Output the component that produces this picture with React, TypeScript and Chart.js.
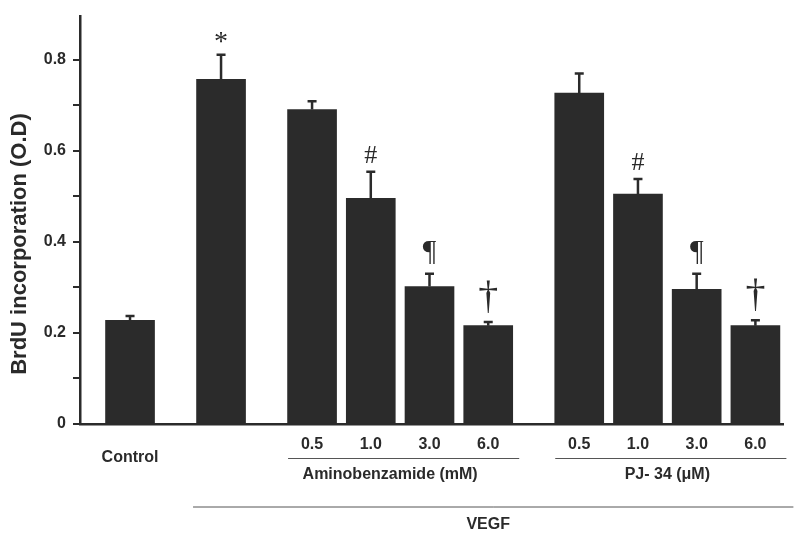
import React, { useEffect, useRef } from "react";
import { Chart, registerables } from "chart.js";

Chart.register(...registerables);

// ---- data ----
const barLabels = ["Control", "", "0.5", "1.0", "3.0", "6.0", "0.5", "1.0", "3.0", "6.0"];
const groupIds = [0, 1, 2, 2, 2, 2, 3, 3, 3, 3];
const means = [0.228, 0.757, 0.691, 0.496, 0.302, 0.216, 0.727, 0.505, 0.296, 0.216];
const errors = [0.009, 0.054, 0.018, 0.058, 0.028, 0.008, 0.043, 0.033, 0.034, 0.012];
const marks = ["", "*", "", "#", "¶", "†", "", "#", "¶", "†"];
const yTickValues = [0, 0.1, 0.2, 0.3, 0.4, 0.5, 0.6, 0.7, 0.8];
const yTickLabels = ["0", "", "0.2", "", "0.4", "", "0.6", "", "0.8"];
const subGroupLabels = ["Aminobenzamide (mM)", "PJ- 34 (\u03bcM)"];
const subGroupRanges = [[2, 5], [6, 9]];
const outerGroupLabel = "VEGF";
const outerGroupRange = [1, 9];
const yTitle = "BrdU incorporation (O.D)";

const GROUP_GAP = 0.55;
const positions = barLabels.map((_, i) => i + GROUP_GAP * groupIds[i]);

const INK = "#2b2b2b";
const TEXT = "#2a2a2a";
const SANS = "'Liberation Sans', Arial, sans-serif";
const SERIF = "'Liberation Serif', 'Times New Roman', serif";

const markSize: Record<string, number> = { "*": 28, "#": 26, "¶": 30, "†": 40 };

const extrasPlugin = {
  id: "extras",
  afterDatasetsDraw(chart: any) {
    const { ctx, chartArea, scales } = chart;
    const xs = scales.x;
    const ys = scales.y;
    const meta = chart.getDatasetMeta(0);
    ctx.save();
    // error bars + marks
    meta.data.forEach((el: any, i: number) => {
      const x = el.x;
      const yTop = ys.getPixelForValue(means[i]);
      const yCap = ys.getPixelForValue(means[i] + errors[i]);
      ctx.strokeStyle = INK;
      ctx.lineWidth = 2.5;
      ctx.beginPath();
      ctx.moveTo(x, yTop);
      ctx.lineTo(x, yCap);
      ctx.moveTo(x - 4.5, yCap);
      ctx.lineTo(x + 4.5, yCap);
      ctx.stroke();
      const m = marks[i];
      if (m) {
        const size = markSize[m] || 24;
        ctx.font = `${size}px ${SERIF}`;
        ctx.fillStyle = TEXT;
        ctx.textAlign = "center";
        ctx.textBaseline = "alphabetic";
        const tm = ctx.measureText(m);
        const gap = m === "*" ? 12 : 9;
        ctx.fillText(m, x, yCap - gap - tm.actualBoundingBoxDescent);
      }
    });
    const bottom = chartArea.bottom;
    // bar labels
    ctx.font = `bold 16px ${SANS}`;
    ctx.fillStyle = TEXT;
    ctx.textAlign = "center";
    ctx.textBaseline = "middle";
    barLabels.forEach((lab, i) => {
      if (!lab) return;
      const x = xs.getPixelForValue(positions[i]);
      const y = groupIds[i] === 0 ? bottom + 34 : bottom + 21;
      ctx.fillText(lab, x, y);
    });
    // sub groups
    ctx.strokeStyle = "#555";
    ctx.lineWidth = 1;
    subGroupRanges.forEach((r, gi) => {
      const x0 = xs.getPixelForValue(positions[r[0]]);
      const x1 = xs.getPixelForValue(positions[r[1]]);
      ctx.beginPath();
      ctx.moveTo(x0 - 24, bottom + 34.5);
      ctx.lineTo(x1 + 31, bottom + 34.5);
      ctx.stroke();
      ctx.fillText(subGroupLabels[gi], (x0 + x1) / 2 - (gi === 0 ? 10 : 0), bottom + 51);
    });
    // outer group
    {
      const x0 = xs.getPixelForValue(positions[outerGroupRange[0]]);
      const x1 = xs.getPixelForValue(positions[outerGroupRange[1]]);
      ctx.beginPath();
      ctx.moveTo(x0 - 28, bottom + 83);
      ctx.lineTo(x1 + 38, bottom + 83);
      ctx.stroke();
      ctx.fillText(outerGroupLabel, (x0 + x1) / 2, bottom + 101);
    }
    // y title
    ctx.save();
    ctx.translate(20, 244);
    ctx.rotate(-Math.PI / 2);
    ctx.font = `bold 22px ${SANS}`;
    ctx.fillStyle = TEXT;
    ctx.textAlign = "center";
    ctx.textBaseline = "middle";
    ctx.fillText(yTitle, 0, 0);
    ctx.restore();
    ctx.restore();
  },
};

export default function App() {
  const ref = useRef<HTMLCanvasElement | null>(null);
  useEffect(() => {
    if (!ref.current) return;
    const chart = new Chart(ref.current, {
      type: "bar",
      data: {
        datasets: [
          {
            data: positions.map((p, i) => ({ x: p, y: means[i] })),
            backgroundColor: INK,
            borderWidth: 0,
            barThickness: 49,
          },
        ],
      },
      options: {
        animation: false,
        responsive: true,
        maintainAspectRatio: false,
        layout: { padding: { left: 0, right: 17, top: 15, bottom: 0 } },
        plugins: { legend: { display: false }, tooltip: { enabled: false } },
        scales: {
          x: {
            type: "linear",
            offset: false,
            min: -0.852,
            max: 11.12,
            grid: { display: false, offset: false },
            ticks: { display: false },
            border: { display: true, width: 2.5, color: INK },
            afterFit: (s: any) => {
              s.height = 115;
            },
          },
          y: {
            min: 0,
            max: 0.895,
            grid: {
              display: true,
              drawOnChartArea: false,
              drawTicks: true,
              tickLength: 7,
              color: INK,
              lineWidth: 2,
            },
            border: { display: true, width: 2.5, color: INK },
            afterBuildTicks: (s: any) => {
              s.ticks = yTickValues.map((v) => ({ value: v }));
            },
            ticks: {
              padding: 7,
              color: TEXT,
              font: { family: SANS, size: 16, weight: "bold" },
              callback: (_v: any, idx: number) => yTickLabels[idx],
            },
            afterFit: (s: any) => {
              s.width = 80;
            },
          },
        },
      },
      plugins: [extrasPlugin],
    });
    return () => chart.destroy();
  }, []);
  return (
    <div style={{ position: "absolute", left: 0, top: 0, width: 800, height: 539, background: "#fff" }}>
      <canvas ref={ref} />
    </div>
  );
}
